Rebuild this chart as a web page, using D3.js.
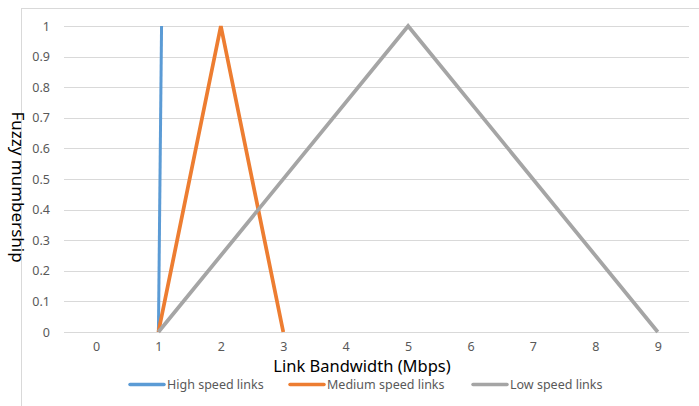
<!DOCTYPE html>
<html>
<head>
<meta charset="utf-8">
<script src="https://cdn.jsdelivr.net/npm/d3@7"></script>
<style>
  html, body { margin: 0; padding: 0; background: #fff; }
  svg { display: block; font-family: "Noto Sans", "Open Sans", sans-serif; }
</style>
</head>
<body>
<svg id="chart" width="699" height="406"></svg>
<script>
// Membership functions of link bandwidth classes
const xCategories = [0, 1, 2, 3, 4, 5, 6, 7, 8, 9];
const yTicks = [0, 0.1, 0.2, 0.3, 0.4, 0.5, 0.6, 0.7, 0.8, 0.9, 1];

const highSpeedX = [1, 1.05];
const highSpeedY = [0, 1];
const mediumSpeedX = [1, 2, 3];
const mediumSpeedY = [0, 1, 0];
const lowSpeedX = [1, 5, 9];
const lowSpeedY = [0, 1, 0];

const seriesNames = ["High speed links", "Medium speed links", "Low speed links"];
const seriesColors = ["#5B9BD5", "#ED7D31", "#A5A5A5"];

const svg = d3.select("#chart");

// chart area frame
svg.append("rect")
  .attr("x", 21.5).attr("y", 8.5)
  .attr("width", 720).attr("height", 420)
  .attr("fill", "none").attr("stroke", "#d9d9d9").attr("stroke-width", 1);

const x = d3.scaleLinear().domain([-0.5, 9.5]).range([64.8, 689]);
const y = d3.scaleLinear().domain([0, 1]).range([332, 26]);

// horizontal gridlines
svg.append("g").selectAll("line").data(yTicks).join("line")
  .attr("x1", 64).attr("x2", 689)
  .attr("y1", d => Math.round(y(d)) + 0.5).attr("y2", d => Math.round(y(d)) + 0.5)
  .attr("stroke", "#d9d9d9").attr("stroke-width", 1);

// y axis labels
const yAxis = d3.axisLeft(y).tickValues(yTicks).tickSize(0).tickPadding(0)
  .tickFormat(d => d3.format("~g")(d));
const gy = svg.append("g").attr("transform", "translate(50,0)").call(yAxis);
gy.select(".domain").remove();
gy.selectAll("text").attr("fill", "#595959").attr("font-size", 12.5)
  .attr("font-family", "'Noto Sans', sans-serif");

// x axis labels
const xAxis = d3.axisBottom(x).tickValues(xCategories).tickSize(0).tickPadding(0)
  .tickFormat(d3.format("d"));
const gx = svg.append("g").attr("transform", "translate(0,342)").call(xAxis);
gx.select(".domain").remove();
gx.selectAll("text").attr("fill", "#595959").attr("font-size", 12.5)
  .attr("font-family", "'Noto Sans', sans-serif");

// series lines
const series = [
  { xs: highSpeedX, ys: highSpeedY, w: 3 },
  { xs: mediumSpeedX, ys: mediumSpeedY, w: 3.75 },
  { xs: lowSpeedX, ys: lowSpeedY, w: 3.75 }
];
const line = d3.line().x(d => x(d[0])).y(d => y(d[1]));
series.forEach((s, i) => {
  svg.append("path")
    .datum(s.xs.map((v, k) => [v, s.ys[k]]))
    .attr("d", line)
    .attr("fill", "none")
    .attr("stroke", seriesColors[i])
    .attr("stroke-width", s.w)
    .attr("stroke-linejoin", "miter")
    .attr("stroke-linecap", "butt");
});

// axis titles
svg.append("text")
  .attr("x", 362).attr("y", 372)
  .attr("text-anchor", "middle")
  .attr("font-size", 16.5).attr("fill", "#000")
  .text("Link Bandwidth (Mbps)");

svg.append("text")
  .attr("transform", "translate(12,187) rotate(90)")
  .attr("text-anchor", "middle")
  .attr("font-size", 17).attr("fill", "#000")
  .text("Fuzzy mumbership");

// legend
const legendX = [130, 290, 473];
const legend = svg.append("g");
seriesNames.forEach((name, i) => {
  legend.append("line")
    .attr("x1", legendX[i]).attr("x2", legendX[i] + 34)
    .attr("y1", 384.5).attr("y2", 384.5)
    .attr("stroke", seriesColors[i]).attr("stroke-width", 3.5)
    .attr("stroke-linecap", "round");
  legend.append("text")
    .attr("x", legendX[i] + 37).attr("y", 389)
    .attr("font-size", 12.5).attr("fill", "#595959")
    .text(name);
});
</script>
</body>
</html>
